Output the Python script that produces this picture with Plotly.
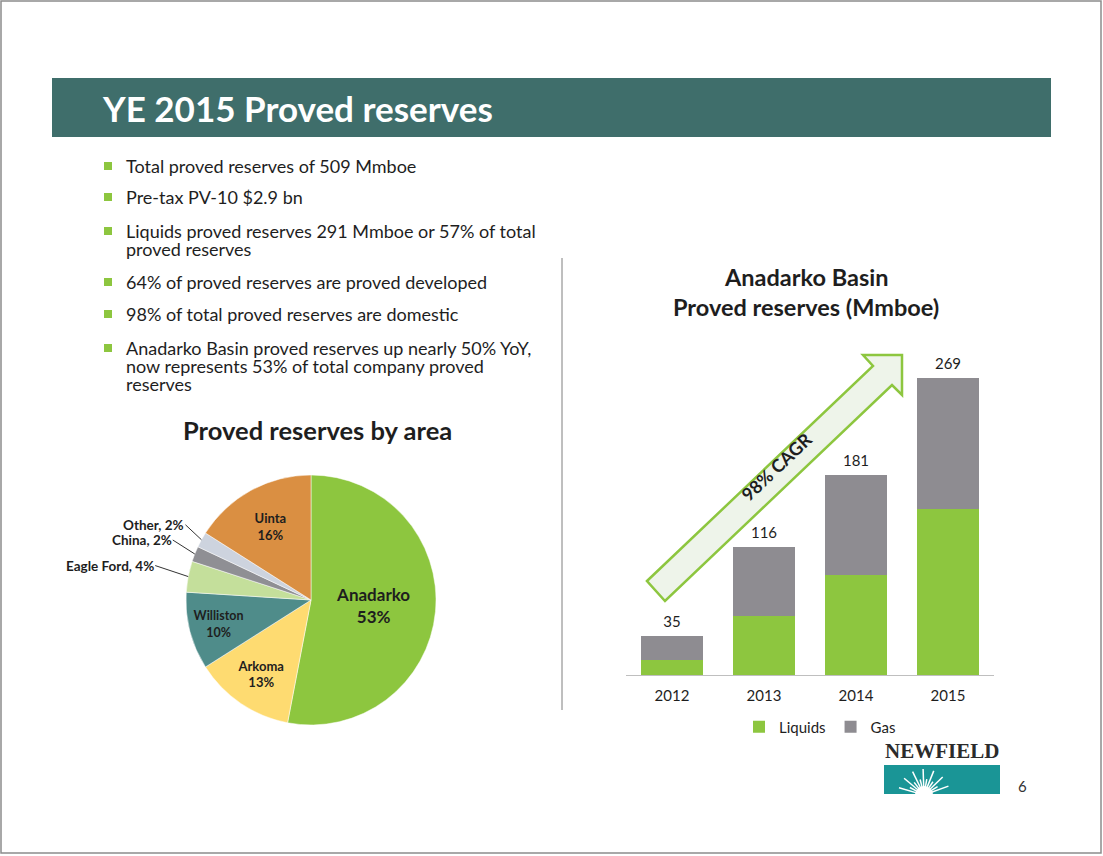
import math

import plotly.graph_objects as go

W, H = 1103, 856
FONT = "Lato"
GREEN = "#8DC63F"
GREY = "#8E8C91"
TEXT = "#1E1E1E"

TITLE = "YE 2015 Proved reserves"

BULLETS = [
    ["Total proved reserves of 509 Mmboe"],
    ["Pre-tax PV-10 $2.9 bn"],
    ["Liquids proved reserves 291 Mmboe or 57% of total", "proved reserves"],
    ["64% of proved reserves are proved developed"],
    ["98% of total proved reserves are domestic"],
    ["Anadarko Basin proved reserves up nearly 50% YoY,",
     "now represents 53% of total company proved", "reserves"],
]
BULLET_TOPS = [166, 197, 231, 282, 314, 348]

AREAS = ["Anadarko", "Arkoma", "Williston", "Eagle Ford", "China", "Other", "Uinta"]
AREA_PCT = [53, 13, 10, 4, 2, 2, 16]
AREA_COLORS = ["#8DC63F", "#FEDB71", "#4F8C8A", "#C4DF9B", "#8F8F94", "#CDD3DE", "#DA8F42"]
OUTSIDE = {"Eagle Ford": (-33, -11), "China": (-22, -14), "Other": (-16, -15)}

YEARS = ["2012", "2013", "2014", "2015"]
LIQUIDS = [14, 53, 91, 150]
GAS = [21, 63, 90, 119]
TOTALS = [35, 116, 181, 269]

# pie geometry (pixels)
CX, CY, R = 311, 600, 125


def px(x, y):
    return x / W, 1 - y / H


def path(points):
    pts = [px(x, y) for x, y in points]
    return "M " + " L ".join(f"{x:.5f},{y:.5f}" for x, y in pts) + " Z"


def box(kind, x0, y0, x1, y1, **kw):
    return dict(type=kind, xref="paper", yref="paper", x0=x0 / W, x1=x1 / W,
                y0=1 - y0 / H, y1=1 - y1 / H, **kw)


def label(fig, x, y, text, size, color=TEXT, bold=False, xanchor="left", family=FONT, **kw):
    xx, yy = px(x, y)
    if bold:
        text = f"<b>{text}</b>"
    fig.add_annotation(x=xx, y=yy, xref="paper", yref="paper", text=text, showarrow=False,
                       xanchor=xanchor, yanchor="middle",
                       font=dict(family=family, size=size, color=color), **kw)


fig = go.Figure()

# pie: proved reserves by area
inside = [f"<b>{a}<br>{p}%</b>" if a not in OUTSIDE else "" for a, p in zip(AREAS, AREA_PCT)]
sizes = [17 if a == "Anadarko" else 13 for a in AREAS]
x0, y1 = px(CX - R, CY - R)
x1, y0 = px(CX + R, CY + R)
fig.add_trace(go.Pie(
    labels=AREAS, values=AREA_PCT, sort=False, direction="clockwise", rotation=0,
    marker=dict(colors=AREA_COLORS, line=dict(color="white", width=0.5)),
    text=inside, textinfo="text", textposition="inside", insidetextorientation="horizontal",
    textfont=dict(family=FONT, size=sizes, color=TEXT),
    domain=dict(x=[x0, x1], y=[y0, y1]), showlegend=False, hoverinfo="label+percent",
))

total = sum(AREA_PCT)
cum = 0
for a, p in zip(AREAS, AREA_PCT):
    mid = (cum + p / 2) / total * 2 * math.pi
    cum += p
    if a in OUTSIDE:
        hx, hy = px(CX + R * math.sin(mid), CY - R * math.cos(mid))
        ax, ay = OUTSIDE[a]
        fig.add_annotation(x=hx, y=hy, xref="paper", yref="paper", text=f"<b>{a}, {p}%</b>",
                           showarrow=True, arrowhead=0, arrowwidth=1, arrowcolor="#333",
                           ax=ax, ay=ay, xanchor="right", yanchor="middle", borderpad=0,
                           font=dict(family=FONT, size=13.5, color=TEXT))

# stacked bars: Anadarko Basin
fig.add_trace(go.Bar(x=YEARS, y=LIQUIDS, name="Liquids", marker=dict(color=GREEN, line_width=0),
                     width=0.67, hoverinfo="x+y"))
fig.add_trace(go.Bar(x=YEARS, y=GAS, name="Gas", marker=dict(color=GREY, line_width=0),
                     width=0.67, hoverinfo="x+y"))
fig.add_trace(go.Scatter(x=YEARS, y=TOTALS, mode="markers+text", text=[str(t) for t in TOTALS],
                         textposition="top center", showlegend=False, hoverinfo="skip",
                         marker=dict(size=7, color="rgba(0,0,0,0)"),
                         textfont=dict(family=FONT, size=15, color=TEXT)))

shapes = [
    box("rect", 1, 853, 1101, 1, line=dict(color="#8C8C8C", width=1.5)),
    box("rect", 52, 137, 1051, 78, fillcolor="#3F6E6B", line_width=0, layer="below"),
    box("line", 562, 710, 562, 258, line=dict(color="#7F7F7F", width=1)),
    dict(type="path", xref="paper", yref="paper",
         path=path([(647, 581), (873, 366), (863, 355), (902, 355), (902, 395),
                    (892, 385), (665, 601)]),
         fillcolor="#EEF4EA", line=dict(color=GREEN, width=2.5), layer="below"),
    box("rect", 884, 794, 1000, 765, fillcolor="#1A9596", line_width=0),
]
# starburst in the logo
for i, ang in enumerate(range(20, 165, 12)):
    ln = 26 if i % 2 == 0 else 16
    a = math.radians(ang)
    shapes.append(box("line", 924 + 5 * math.cos(a), 795 - 5 * math.sin(a),
                      924 + ln * math.cos(a), 795 - ln * math.sin(a),
                      line=dict(color="white", width=1.5)))
shapes.append(box("circle", 915, 804, 933, 786, fillcolor="white", line_width=0))
shapes.append(box("rect", 880, 815, 1004, 794, fillcolor="white", line_width=0))

# bullets, wrapped lines 18px apart like the slide
for top, lines in zip(BULLET_TOPS, BULLETS):
    shapes.append(box("rect", 104, top + 4, 112, top - 4, fillcolor=GREEN, line_width=0))
    for j, line in enumerate(lines):
        label(fig, 124, top + 18 * j, line, 18)

label(fig, 100, 108, TITLE, 35, color="white", bold=True)
label(fig, 317, 430, "Proved reserves by area", 25.5, bold=True, xanchor="center")
label(fig, 806, 277, "Anadarko Basin", 23.5, bold=True, xanchor="center")
label(fig, 806, 307, "Proved reserves (Mmboe)", 23.5, bold=True, xanchor="center")
label(fig, 776, 467, "98% CAGR", 18, bold=True, xanchor="center", textangle=-43.5)
label(fig, 942, 751, "NEWFIELD", 21, color="#2B2B2B", xanchor="center", bold=True,
      family="Liberation Serif, serif")
label(fig, 1023, 786, "6", 15, color="#333", xanchor="center")

fig.update_layout(
    width=W, height=H, margin=dict(l=0, r=0, t=0, b=0),
    paper_bgcolor="white", plot_bgcolor="white",
    barmode="stack", shapes=shapes,
    xaxis=dict(domain=[626 / W, 994 / W], range=[-0.5, 3.5], showline=True,
               linecolor="#BFBFBF", linewidth=1, showgrid=False, ticks="",
               tickfont=dict(family=FONT, size=15, color=TEXT), ticklabelstandoff=7),
    yaxis=dict(domain=[1 - 675 / H, 1 - 350 / H], range=[0, 294.4], visible=False),
    legend=dict(orientation="h", x=820 / W, y=1 - 727 / H, xanchor="center", yanchor="middle",
                traceorder="normal", font=dict(family=FONT, size=15, color=TEXT)),
    font=dict(family=FONT),
)

fig.write_html("out.html", config={"displayModeBar": False},
               post_script="document.body.style.margin='0';document.body.style.overflow='hidden';")
